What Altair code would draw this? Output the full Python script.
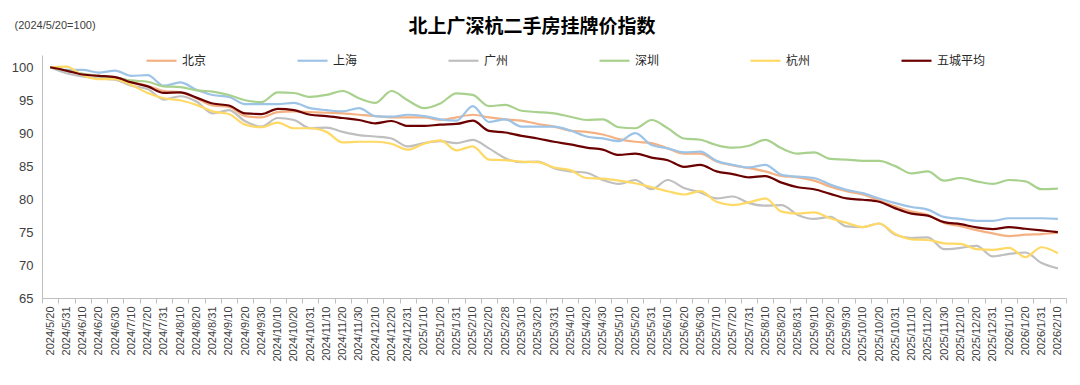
import altair as alt
import pandas as pd

labels = [
    "2024/5/20", "2024/5/31", "2024/6/10", "2024/6/20", "2024/6/30", "2024/7/10", "2024/7/20", "2024/7/31",
    "2024/8/10", "2024/8/20", "2024/8/31", "2024/9/10", "2024/9/20", "2024/9/30", "2024/10/10", "2024/10/20",
    "2024/10/31", "2024/11/10", "2024/11/20", "2024/11/30", "2024/12/10", "2024/12/20", "2024/12/31",
    "2025/1/10", "2025/1/20", "2025/1/31", "2025/2/10", "2025/2/20", "2025/2/28", "2025/3/10", "2025/3/20",
    "2025/3/31", "2025/4/10", "2025/4/20", "2025/4/30", "2025/5/10", "2025/5/20", "2025/5/31", "2025/6/10",
    "2025/6/20", "2025/6/30", "2025/7/10", "2025/7/20", "2025/7/31", "2025/8/10", "2025/8/20", "2025/8/31",
    "2025/9/10", "2025/9/20", "2025/9/30", "2025/10/10", "2025/10/20", "2025/10/31", "2025/11/10",
    "2025/11/20", "2025/11/30", "2025/12/10", "2025/12/20", "2025/12/31", "2026/1/10", "2026/1/20",
    "2026/1/31", "2026/2/10",
]

cities = ["北京", "上海", "广州", "深圳", "杭州", "五城平均"]

beijing = [
    100.0, 99.5, 99.0, 98.7, 98.5, 97.8, 97.2, 96.4, 96.2, 95.3,
    94.2, 94.0, 92.6, 92.4, 93.2, 93.3, 93.2, 93.1, 93.0, 92.8,
    92.6, 92.4, 92.4, 92.4, 92.0, 92.4, 92.8, 92.4, 92.1, 91.9,
    91.4, 91.0, 90.4, 90.2, 89.8, 89.1, 88.7, 88.5, 87.7, 86.9,
    86.9, 85.7, 85.1, 84.7, 84.2, 83.5, 83.3, 82.8, 81.9, 81.2,
    80.7, 79.8, 78.9, 78.1, 77.6, 76.4, 75.9, 75.3, 74.8, 74.4,
    74.6, 74.7, 74.9,
]
shanghai = [
    100.0, 99.6, 99.6, 99.2, 99.5, 98.7, 98.8, 97.2, 97.7, 96.6,
    95.8, 95.5, 94.4, 94.4, 94.4, 94.6, 93.8, 93.5, 93.3, 93.8,
    92.6, 92.5, 92.8, 92.6, 92.1, 91.9, 94.1, 91.7, 92.1, 91.0,
    91.0, 91.0, 90.4, 89.5, 89.2, 88.8, 90.0, 88.2, 87.7, 87.1,
    87.2, 85.8, 85.2, 84.8, 85.2, 83.7, 83.4, 83.2, 82.2, 81.4,
    80.9, 80.1, 79.4, 78.8, 78.4, 77.3, 77.0, 76.7, 76.7, 77.1,
    77.1, 77.1, 77.0,
]
guangzhou = [
    100.0, 99.1, 98.6, 98.3, 98.1, 97.2, 96.7, 95.1, 95.6, 94.8,
    93.0, 93.5, 91.8, 91.0, 92.3, 92.0, 90.75, 90.85, 90.2, 89.7,
    89.5, 89.2, 88.0, 88.5, 88.8, 88.5, 89.0, 87.7, 86.2, 85.6,
    85.7, 84.7, 84.2, 84.0, 82.9, 82.3, 82.9, 81.5, 82.9, 81.7,
    81.0, 80.1, 80.4, 79.4, 79.0, 79.1, 77.6, 77.0, 77.3, 75.85,
    75.75, 76.3, 74.6, 74.1, 74.2, 72.4, 72.6, 72.9, 71.3, 71.7,
    71.9, 70.3, 69.5,
]
shenzhen = [
    100.0, 99.5, 99.0, 98.7, 98.4, 98.0, 97.8, 97.1, 97.0, 96.5,
    96.3, 95.8, 95.0, 94.7, 96.2, 96.1, 95.5, 95.8, 96.4, 95.3,
    94.6, 96.4, 95.0, 93.8, 94.5, 96.05, 95.8, 94.1, 94.3, 93.4,
    93.2, 93.0, 92.5, 92.0, 92.1, 90.9, 90.75, 92.0, 90.75, 89.2,
    89.0, 88.2, 87.8, 88.1, 89.0, 87.7, 86.9, 87.1, 86.1, 86.0,
    85.8, 85.8, 85.0, 83.9, 84.2, 82.8, 83.2, 82.7, 82.3, 82.9,
    82.7, 81.5, 81.6,
]
hangzhou = [
    100.0, 100.1, 98.8, 98.2, 98.2, 97.3, 96.1, 95.3, 95.0, 94.3,
    93.3, 92.9, 91.3, 90.9, 91.6, 90.75, 90.75, 90.2, 88.6, 88.7,
    88.7, 88.4, 87.5, 88.4, 88.9, 87.4, 88.0, 86.0, 85.9, 85.7,
    85.6, 84.8, 84.4, 83.2, 83.1, 82.8, 82.4, 81.8, 81.2, 80.7,
    81.2, 79.6, 79.1, 79.5, 80.1, 78.1, 77.8, 78.0, 77.1, 76.4,
    75.75, 76.3, 74.7, 73.9, 73.8, 73.3, 73.2, 72.4, 72.3, 72.6,
    71.2, 72.7, 71.8,
]
average = [
    100.0, 99.5, 98.9, 98.7, 98.5, 97.7, 97.1, 96.1, 96.2, 95.4,
    94.5, 94.2, 93.0, 92.9, 93.7, 93.5, 92.8, 92.6, 92.3, 92.0,
    91.5, 91.85, 91.1, 91.1, 91.3, 91.4, 91.9, 90.35, 90.1, 89.6,
    89.2, 88.7, 88.3, 87.8, 87.5, 86.7, 86.9, 86.3, 85.9, 84.9,
    85.2, 84.2, 83.8, 83.3, 83.5, 82.5, 81.8, 81.5, 80.8, 80.1,
    79.9, 79.6, 78.6, 77.8, 77.5, 76.5, 76.2, 75.7, 75.45, 75.75,
    75.5, 75.25, 75.0,
]

colors = ["#F4B183", "#9DC3E6", "#BFBFBF", "#A9D18E", "#FFD966", "#6B0000"]
widths = [2.2, 2.2, 2.2, 2.2, 2.2, 4.5]

series = [beijing, shanghai, guangzhou, shenzhen, hangzhou, average]
rows = []
for name, vals in zip(cities, series):
    for lab, v in zip(labels, vals):
        rows.append({"date": lab, "city": name, "value": v})
df = pd.DataFrame(rows)

LATIN = "Liberation Sans"
CJK = "Noto Sans CJK SC"

x_enc = alt.X(
    "date:N",
    sort=labels,
    bandPosition=0.5,
    scale=alt.Scale(type="band", paddingInner=0, paddingOuter=0),
    axis=alt.Axis(
        title=None,
        labelAngle=270,
        labelFont=LATIN,
        labelFontSize=11,
        labelColor="#404040",
        labelPadding=3,
        labelOverlap=False,
        labelBound=False,
        tickBand="extent",
        tickSize=5,
        tickColor="#BFBFBF",
        domainColor="#BFBFBF",
        grid=False,
    ),
)

y_enc = alt.Y(
    "value:Q",
    scale=alt.Scale(domain=[65, 101.86], nice=False, zero=False),
    axis=alt.Axis(
        values=[65, 70, 75, 80, 85, 90, 95, 100],
        title="(2024/5/20=100)",
        titleAngle=0,
        titleAlign="left",
        titleBaseline="middle",
        titleX=-28,
        titleY=-30,
        titleFont=LATIN,
        titleFontSize=11,
        titleFontWeight="normal",
        titleColor="#404040",
        labelFont=LATIN,
        labelFontSize=13,
        labelColor="#404040",
        labelPadding=9,
        ticks=False,
        grid=False,
        domainColor="#BFBFBF",
    ),
)

legend_opts = dict(
    title=None,
    orient="none",
    legendX=103,
    legendY=-11,
    direction="horizontal",
    columns=6,
    gridAlign="all",
    columnPadding=62,
    symbolType="stroke",
    symbolSize=900,
    labelFont=CJK,
    labelFontSize=12,
    labelColor="#262626",
    labelOffset=4,
    padding=0,
)

color_enc = alt.Color(
    "city:N",
    sort=cities,
    scale=alt.Scale(domain=cities, range=colors),
    legend=alt.Legend(**legend_opts),
)

sw_enc = alt.StrokeWidth(
    "city:N",
    sort=cities,
    scale=alt.Scale(domain=cities, range=widths),
    legend=alt.Legend(**legend_opts),
)

base = alt.Chart(df).mark_line(interpolate="monotone").encode(
    x=x_enc, y=y_enc, color=color_enc, strokeWidth=sw_enc
)

cities_layer = base.transform_filter(alt.datum.city != "五城平均")
avg_layer = base.transform_filter(alt.datum.city == "五城平均")

chart = (
    alt.layer(cities_layer, avg_layer)
    .properties(
        width=1024,
        height=243,
        autosize=alt.AutoSizeParams(type="none"),
        padding={"left": 34, "top": 47, "right": 6, "bottom": 80},
        title=alt.TitleParams(
            "北上广深杭二手房挂牌价指数",
            font=CJK,
            fontSize=19,
            fontWeight="bold",
            color="#000000",
            anchor="middle",
            frame="group",
            offset=0,
            dx=-22,
            dy=18,
        ),
        background="white",
    )
    .configure_view(stroke=None)
)

chart.save("out.html", embed_options={"renderer": "svg", "actions": False})
